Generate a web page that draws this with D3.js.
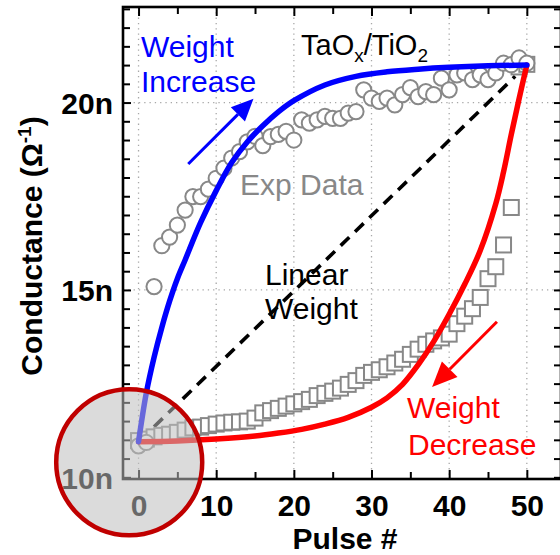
<!DOCTYPE html>
<html>
<head>
<meta charset="utf-8">
<script src="https://cdn.jsdelivr.net/npm/d3@7/dist/d3.min.js"></script>
<style>
  html, body { margin: 0; padding: 0; background: #fff; }
  svg { display: block; }
</style>
</head>
<body>
<svg id="chart" width="560" height="555"></svg>
<script>
// ---- data (conductance in nS) ----
const pulses = [0,1,2,3,4,5,6,7,8,9,10,11,12,13,14,15,16,17,18,19,20,21,22,23,24,25,
  26,27,28,29,30,31,32,33,34,35,36,37,38,39,40,41,42,43,44,45,46,47,48,49,50];

// measured potentiation (circles)
const expIncrease = [10.84,10.93,15.09,16.18,16.41,16.73,17.13,17.49,17.49,17.69,17.98,
  18.25,18.52,18.69,18.95,19.1,18.85,19.09,19.15,19.23,19.0,19.54,19.45,19.54,19.63,19.58,
  19.58,19.72,19.76,20.34,20.12,20.03,20.12,19.94,20.21,20.4,20.16,20.29,20.21,20.65,20.34,
  20.74,20.79,20.61,20.74,20.61,20.79,21.05,21.01,21.19,21.05];

// measured depression (squares)
const expDecrease = [10.98,11.02,11.08,11.12,11.15,11.2,11.26,11.32,11.34,11.38,11.42,
  11.45,11.47,11.48,11.5,11.58,11.72,11.78,11.84,11.9,11.96,12.02,12.08,12.18,12.24,12.3,
  12.38,12.48,12.58,12.72,12.8,12.87,12.95,13.05,13.15,13.28,13.42,13.55,13.64,13.72,13.82,
  14.1,14.3,14.5,14.8,15.3,15.62,16.2,17.2,20.95,21.02];

// model curves
const incCurvePulse = [0,1,2,3,4,5,6,8,10,12,14,16,18,20,24,28,32,36,40,45,50];
const incCurveG     = [10.95,12.25,13.2,14.0,14.7,15.3,15.8,16.8,17.65,18.4,18.95,19.38,
  19.75,20.05,20.47,20.7,20.82,20.89,20.94,20.98,21.0];
const decCurvePulse = [0,5,10,15,18,21,24,27,30,32,34,36,38,40,42,44,46,47,48,49,50];
const decCurveG     = [10.95,10.97,11.02,11.1,11.18,11.28,11.42,11.6,11.87,12.12,12.48,
  13.0,13.62,14.35,15.15,16.05,17.3,18.15,19.15,20.1,21.0];

// ideal linear weight update
const linearPulse = [2, 48.5];
const linearG     = [11.35, 20.7];

// axes
const xMajorTicks = [0,10,20,30,40,50];
const xMinorTicks = [5,15,25,35,45];
const yMajorTicks = [10,15,20];
const yTickLabels = ["10n","15n","20n"];
const yMinorTicks = [10.5,11,11.5,12,12.5,13,13.5,14,14.5,15.5,16,16.5,17,17.5,18,18.5,
  19,19.5,20.5,21,21.5,22,22.5];
const yGridLines = [15,20];

// ---- layout ----
const svg = d3.select("#chart");
const FONT = "'Liberation Sans', Arial, Helvetica, sans-serif";
const plotLeft = 123, plotRight = 561, plotTop = 7, plotBottom = 479;

const x = d3.scaleLinear().domain([-2, 54.4]).range([plotLeft, plotRight]);
const y = d3.scaleLinear().domain([9.955, 22.55]).range([plotBottom, plotTop]);

svg.append("rect").attr("width", 560).attr("height", 555).attr("fill", "#fff");

// dotted grid
const grid = svg.append("g").attr("stroke", "#a8a8a8").attr("stroke-width", 1.3)
  .attr("stroke-dasharray", "1.3,4");
grid.selectAll("line.v").data(xMajorTicks).join("line").attr("class", "v")
  .attr("x1", d => x(d)).attr("x2", d => x(d)).attr("y1", plotTop).attr("y2", plotBottom);
grid.selectAll("line.h").data(yGridLines).join("line").attr("class", "h")
  .attr("x1", plotLeft).attr("x2", plotRight).attr("y1", d => y(d)).attr("y2", d => y(d));

// linear weight (dashed)
svg.append("path")
  .attr("d", d3.line().x(d => x(d[0])).y(d => y(d[1]))(d3.zip(linearPulse, linearG)))
  .attr("fill", "none").attr("stroke", "#000").attr("stroke-width", 3.6)
  .attr("stroke-dasharray", "12,8");

// depression data
const sq = 15;
svg.append("g").selectAll("rect").data(d3.zip(pulses, expDecrease)).join("rect")
  .attr("x", d => x(d[0]) - sq / 2).attr("y", d => y(d[1]) - sq / 2)
  .attr("width", sq).attr("height", sq)
  .attr("fill", "#fff").attr("stroke", "#888").attr("stroke-width", 2);

// potentiation data
svg.append("g").selectAll("circle").data(d3.zip(pulses, expIncrease)).join("circle")
  .attr("cx", d => x(d[0])).attr("cy", d => y(d[1])).attr("r", 7.6)
  .attr("fill", "#fff").attr("stroke", "#888").attr("stroke-width", 2);

// model curves
const curve = d3.line().x(d => x(d[0])).y(d => y(d[1])).curve(d3.curveCatmullRom.alpha(0.5));
svg.append("path").attr("d", curve(d3.zip(decCurvePulse, decCurveG)))
  .attr("fill", "none").attr("stroke", "#ff0000").attr("stroke-width", 5.5)
  .attr("stroke-linecap", "round");
svg.append("path").attr("d", curve(d3.zip(incCurvePulse, incCurveG)))
  .attr("fill", "none").attr("stroke", "#0000ff").attr("stroke-width", 5.5)
  .attr("stroke-linecap", "round");

// arrows
function arrow(p0, g0, p1, g1, color, width, headLen, headHalf) {
  const x0 = x(p0), y0 = y(g0), x1 = x(p1), y1 = y(g1);
  const ang = Math.atan2(y1 - y0, x1 - x0);
  const bx = x1 - headLen * Math.cos(ang), by = y1 - headLen * Math.sin(ang);
  svg.append("line").attr("x1", x0).attr("y1", y0).attr("x2", bx).attr("y2", by)
    .attr("stroke", color).attr("stroke-width", width);
  const px = -Math.sin(ang) * headHalf, py = Math.cos(ang) * headHalf;
  svg.append("path")
    .attr("d", `M${x1},${y1}L${bx + px},${by + py}L${bx - px},${by - py}Z`)
    .attr("fill", color);
}
arrow(6.4, 18.36, 14.8, 20.1, "#0000ff", 3, 22, 10);
arrow(46.15, 14.15, 37.8, 12.41, "#ff0000", 3, 25, 11);

// text annotations
function label(txt, px, py, color, anchor) {
  return svg.append("text").attr("x", px).attr("y", py).attr("fill", color)
    .attr("font-family", FONT).attr("font-size", 30)
    .attr("text-anchor", anchor || "start").text(txt);
}
label("Weight", 141, 57, "#0000ff");
label("Increase", 141, 92, "#0000ff");
label("Exp Data", 240, 195, "#888888");
label("Linear", 265, 285, "#000");
label("Weight", 265, 319, "#000");
label("Weight", 407, 418, "#ff0000");
label("Decrease", 408, 455, "#ff0000");

const mat = svg.append("text").attr("x", 301).attr("y", 55).attr("fill", "#000")
  .attr("font-family", FONT).attr("font-size", 29);
mat.append("tspan").text("TaO");
mat.append("tspan").attr("dy", 7).attr("font-size", 19).text("x");
mat.append("tspan").attr("dy", -7).text("/TiO");
mat.append("tspan").attr("dy", 7).attr("font-size", 19).text("2");

// axes: ticks point inward on all four sides
const axes = svg.append("g");
function styleAxis(g) {
  g.select(".domain").remove();
  g.selectAll(".tick line").attr("stroke", "#000").attr("stroke-width", 2);
  g.selectAll(".tick text").attr("fill", "#000").attr("font-family", FONT)
    .attr("font-size", 30).attr("font-weight", "bold");
}
axes.append("g").attr("transform", `translate(0,${plotBottom})`)
  .call(d3.axisBottom(x).tickValues(xMajorTicks).tickSize(-9).tickPadding(16)
    .tickFormat(d3.format("d")))
  .call(styleAxis)
  .call(g => g.selectAll(".tick text").attr("y", 0).attr("dy", 37));
axes.append("g").attr("transform", `translate(0,${plotBottom})`)
  .call(d3.axisBottom(x).tickValues(xMinorTicks).tickSize(-7).tickFormat(""))
  .call(styleAxis);
axes.append("g").attr("transform", `translate(0,${plotTop})`)
  .call(d3.axisTop(x).tickValues(xMajorTicks).tickSize(-9).tickFormat(""))
  .call(styleAxis);
axes.append("g").attr("transform", `translate(0,${plotTop})`)
  .call(d3.axisTop(x).tickValues(xMinorTicks).tickSize(-7).tickFormat(""))
  .call(styleAxis);
axes.append("g").attr("transform", `translate(${plotLeft},0)`)
  .call(d3.axisLeft(y).tickValues(yMajorTicks).tickSize(-8).tickPadding(10)
    .tickFormat((d, i) => yTickLabels[i]))
  .call(styleAxis)
  .call(g => g.selectAll(".tick text").attr("x", -10).attr("dy", 11));
axes.append("g").attr("transform", `translate(${plotLeft},0)`)
  .call(d3.axisLeft(y).tickValues(yMinorTicks).tickSize(-7).tickFormat(""))
  .call(styleAxis);
axes.append("g").attr("transform", `translate(${plotRight},0)`)
  .call(d3.axisRight(y).tickValues(yMajorTicks.concat(yMinorTicks)).tickSize(-7).tickFormat(""))
  .call(styleAxis);

// frame
svg.append("rect").attr("x", plotLeft).attr("y", plotTop)
  .attr("width", plotRight - plotLeft).attr("height", plotBottom - plotTop)
  .attr("fill", "none").attr("stroke", "#000").attr("stroke-width", 2.6);

// axis titles
svg.append("text").attr("x", 345).attr("y", 549).attr("text-anchor", "middle")
  .attr("font-family", FONT).attr("font-size", 30).attr("font-weight", "bold")
  .attr("fill", "#000").text("Pulse #");

const yt = svg.append("text")
  .attr("transform", "translate(42,246) rotate(-90)")
  .attr("text-anchor", "middle").attr("font-family", FONT).attr("font-size", 30)
  .attr("font-weight", "bold").attr("fill", "#000");
yt.append("tspan").text("Conductance (\u03A9");
yt.append("tspan").attr("dy", -11).attr("font-size", 19).text("-1");
yt.append("tspan").attr("dy", 11).text(")");

// highlight around the common starting point
svg.append("circle")
  .attr("cx", x(-1.2)).attr("cy", y(10.4)).attr("r", 73)
  .attr("fill", "#bebebe").attr("fill-opacity", 0.55)
  .attr("stroke", "#c00000").attr("stroke-width", 4.5);
</script>
</body>
</html>
